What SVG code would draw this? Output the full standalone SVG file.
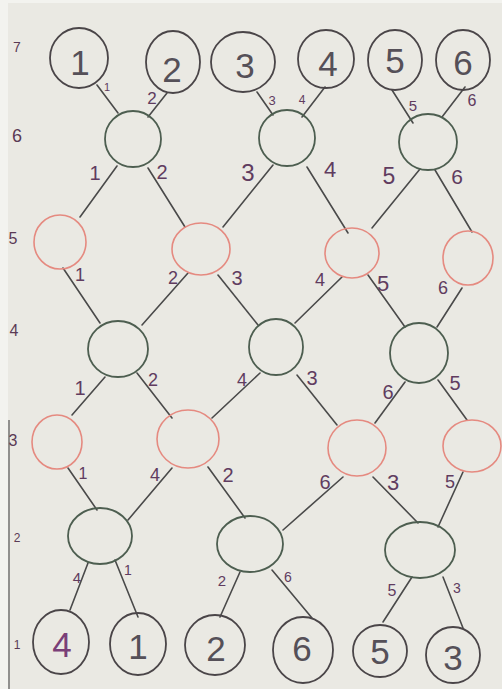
<svg xmlns="http://www.w3.org/2000/svg" width="502" height="689" viewBox="0 0 502 689">
<style>
text{font-family:"Liberation Sans","DejaVu Sans",sans-serif;text-anchor:middle;dominant-baseline:central}
.dk{fill:none;stroke:#4a4548;stroke-width:1.8}
.gr{fill:none;stroke:#4d5e50;stroke-width:1.8}
.rd{fill:none;stroke:#e58a80;stroke-width:1.6}
.num{font-size:35px;fill:#555058}
.lbl{fill:#603c5f}
.row{fill:#5a3a55}
#edges line{stroke:#4a4a4a;stroke-width:1.6;stroke-linecap:round}
</style>
<rect width="502" height="689" fill="#eae9e3"/>
<rect width="8" height="689" fill="#f3f3ef"/>
<rect width="502" height="3" fill="#f3f3ef"/>
<line x1="9" y1="420" x2="9" y2="689" stroke="#555" stroke-width="1.2"/>
<g id="row-labels" class="row">
<text x="17" y="47" font-size="14">7</text>
<text x="17" y="136" font-size="18">6</text>
<text x="13" y="238" font-size="16">5</text>
<text x="14" y="330" font-size="16">4</text>
<text x="13" y="440" font-size="16">3</text>
<text x="17" y="538" font-size="12">2</text>
<text x="17" y="645" font-size="12">1</text>
</g>
<g id="edges">
<line x1="97" y1="85" x2="118" y2="113"/>
<line x1="167" y1="93" x2="148" y2="117"/>
<line x1="257" y1="92" x2="273" y2="115"/>
<line x1="325" y1="87" x2="302" y2="117"/>
<line x1="392" y1="90" x2="413" y2="123"/>
<line x1="465" y1="87" x2="442" y2="117"/>
<line x1="117" y1="166" x2="80" y2="217"/>
<line x1="148" y1="168" x2="185" y2="227"/>
<line x1="273" y1="165" x2="223" y2="227"/>
<line x1="307" y1="167" x2="348" y2="233"/>
<line x1="420" y1="169" x2="372" y2="228"/>
<line x1="435" y1="170" x2="472" y2="232"/>
<line x1="63" y1="268" x2="100" y2="323"/>
<line x1="188" y1="273" x2="142" y2="325"/>
<line x1="218" y1="275" x2="258" y2="325"/>
<line x1="342" y1="277" x2="295" y2="323"/>
<line x1="368" y1="275" x2="405" y2="327"/>
<line x1="462" y1="288" x2="437" y2="327"/>
<line x1="105" y1="377" x2="72" y2="415"/>
<line x1="137" y1="373" x2="172" y2="418"/>
<line x1="260" y1="373" x2="212" y2="418"/>
<line x1="297" y1="375" x2="337" y2="425"/>
<line x1="405" y1="382" x2="375" y2="423"/>
<line x1="438" y1="380" x2="467" y2="420"/>
<line x1="68" y1="468" x2="97" y2="510"/>
<line x1="172" y1="468" x2="128" y2="520"/>
<line x1="208" y1="467" x2="245" y2="518"/>
<line x1="343" y1="477" x2="283" y2="530"/>
<line x1="373" y1="477" x2="418" y2="523"/>
<line x1="463" y1="472" x2="438" y2="527"/>
<line x1="88" y1="563" x2="70" y2="610"/>
<line x1="115" y1="560" x2="138" y2="617"/>
<line x1="240" y1="572" x2="220" y2="617"/>
<line x1="272" y1="570" x2="312" y2="618"/>
<line x1="412" y1="577" x2="383" y2="622"/>
<line x1="443" y1="577" x2="463" y2="628"/>
</g>
<g id="edge-labels" class="lbl">
<text x="107" y="87" font-size="11">1</text>
<text x="152" y="98" font-size="17">2</text>
<text x="272" y="100" font-size="13">3</text>
<text x="302" y="100" font-size="12">4</text>
<text x="413" y="105" font-size="15">5</text>
<text x="472" y="100" font-size="16">6</text>
<text x="95" y="173" font-size="20">1</text>
<text x="162" y="172" font-size="20">2</text>
<text x="248" y="172" font-size="24">3</text>
<text x="330" y="169" font-size="22">4</text>
<text x="389" y="176" font-size="23">5</text>
<text x="457" y="176" font-size="21">6</text>
<text x="80" y="275" font-size="18">1</text>
<text x="173" y="278" font-size="18">2</text>
<text x="237" y="278" font-size="20">3</text>
<text x="320" y="280" font-size="18">4</text>
<text x="383" y="283" font-size="22">5</text>
<text x="443" y="288" font-size="18">6</text>
<text x="80" y="388" font-size="20">1</text>
<text x="153" y="380" font-size="18">2</text>
<text x="242" y="380" font-size="18">4</text>
<text x="312" y="378" font-size="20">3</text>
<text x="388" y="392" font-size="20">6</text>
<text x="455" y="383" font-size="20">5</text>
<text x="83" y="473" font-size="16">1</text>
<text x="155" y="475" font-size="18">4</text>
<text x="228" y="475" font-size="20">2</text>
<text x="325" y="482" font-size="20">6</text>
<text x="393" y="482" font-size="22">3</text>
<text x="450" y="482" font-size="18">5</text>
<text x="77" y="577" font-size="15">4</text>
<text x="128" y="570" font-size="14">1</text>
<text x="222" y="580" font-size="15">2</text>
<text x="288" y="577" font-size="14">6</text>
<text x="392" y="590" font-size="16">5</text>
<text x="457" y="588" font-size="14">3</text>
</g>
<g id="n7-1"><ellipse class="dk" cx="79" cy="58" rx="29" ry="30"/><text class="num" x="80" y="62">1</text></g>
<g id="n7-2"><ellipse class="dk" cx="173" cy="62" rx="27" ry="31"/><text class="num" x="172" y="69">2</text></g>
<g id="n7-3"><ellipse class="dk" cx="243" cy="62" rx="32" ry="30"/><text class="num" x="245" y="65">3</text></g>
<g id="n7-4"><ellipse class="dk" cx="326" cy="59" rx="28" ry="29"/><text class="num" x="328" y="63">4</text></g>
<g id="n7-5"><ellipse class="dk" cx="395" cy="60" rx="27" ry="30"/><text class="num" x="395" y="60">5</text></g>
<g id="n7-6"><ellipse class="dk" cx="463" cy="60" rx="27" ry="30"/><text class="num" x="463" y="62">6</text></g>
<g id="n6-1"><ellipse class="gr" cx="133" cy="139" rx="28" ry="28"/></g>
<g id="n6-2"><ellipse class="gr" cx="287" cy="138" rx="28" ry="28"/></g>
<g id="n6-3"><ellipse class="gr" cx="428" cy="142" rx="29" ry="28"/></g>
<g id="n5-1"><ellipse class="rd" cx="60" cy="242" rx="26" ry="27"/></g>
<g id="n5-2"><ellipse class="rd" cx="201" cy="249" rx="29" ry="26"/></g>
<g id="n5-3"><ellipse class="rd" cx="352" cy="253" rx="27" ry="25"/></g>
<g id="n5-4"><ellipse class="rd" cx="468" cy="258" rx="25" ry="27"/></g>
<g id="n4-1"><ellipse class="gr" cx="118" cy="349" rx="30" ry="28"/></g>
<g id="n4-2"><ellipse class="gr" cx="276" cy="347" rx="27" ry="28"/></g>
<g id="n4-3"><ellipse class="gr" cx="419" cy="353" rx="29" ry="30"/></g>
<g id="n3-1"><ellipse class="rd" cx="57" cy="442" rx="25" ry="27"/></g>
<g id="n3-2"><ellipse class="rd" cx="188" cy="439" rx="31" ry="29"/></g>
<g id="n3-3"><ellipse class="rd" cx="357" cy="448" rx="29" ry="28"/></g>
<g id="n3-4"><ellipse class="rd" cx="472" cy="446" rx="29" ry="26"/></g>
<g id="n2-1"><ellipse class="gr" cx="100" cy="536" rx="32" ry="28"/></g>
<g id="n2-2"><ellipse class="gr" cx="250" cy="544" rx="33" ry="28"/></g>
<g id="n2-3"><ellipse class="gr" cx="420" cy="550" rx="35" ry="28"/></g>
<g id="n1-4"><ellipse class="dk" cx="61" cy="642" rx="28" ry="32"/><text class="num" x="62" y="644" style="fill:#7a3f78">4</text></g>
<g id="n1-1"><ellipse class="dk" cx="138" cy="644" rx="28" ry="31"/><text class="num" x="138" y="646">1</text></g>
<g id="n1-2"><ellipse class="dk" cx="215" cy="645" rx="30" ry="30"/><text class="num" x="216" y="648">2</text></g>
<g id="n1-6"><ellipse class="dk" cx="303" cy="650" rx="30" ry="33"/><text class="num" x="302" y="648">6</text></g>
<g id="n1-5"><ellipse class="dk" cx="380" cy="651" rx="27" ry="26"/><text class="num" x="380" y="651">5</text></g>
<g id="n1-3"><ellipse class="dk" cx="453" cy="655" rx="27" ry="28"/><text class="num" x="453" y="657">3</text></g>
</svg>
